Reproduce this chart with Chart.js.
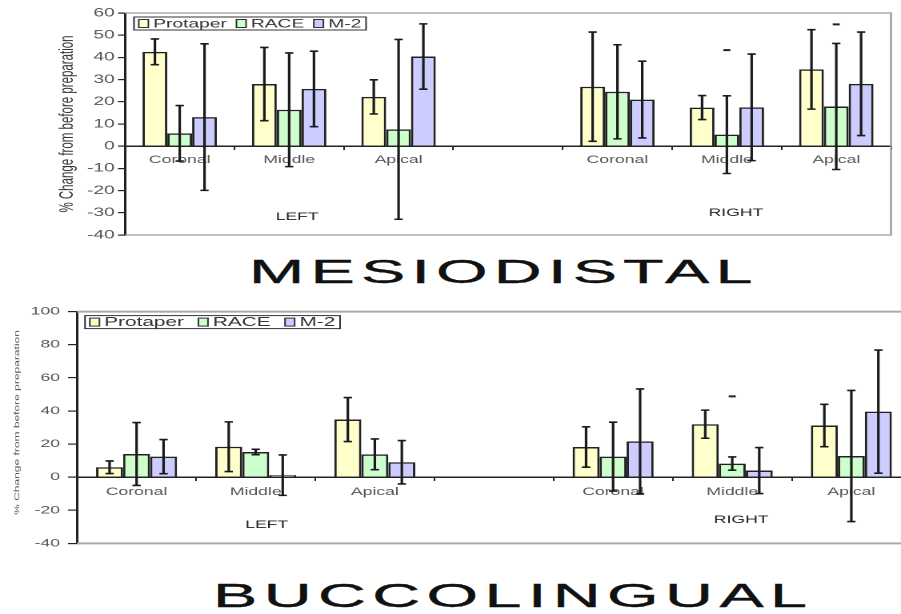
<!DOCTYPE html>
<html>
<head>
<meta charset="utf-8">
<script src="https://cdn.jsdelivr.net/npm/chart.js@4/dist/chart.umd.min.js"></script>
<style>
  html, body { margin: 0; padding: 0; background: #fff; width: 901px; height: 614px; overflow: hidden; position: relative; }
  .wrap { position: absolute; left: 0; transform-origin: 0 0; }
  .heading {
    position: absolute; white-space: nowrap; color: #111;
    font-family: 'Liberation Sans', Arial, sans-serif; font-size: 34px; line-height: 34px;
    -webkit-text-stroke: 0.4px #111;
    transform: scaleX(1.95); transform-origin: 0 0;
  }
</style>
</head>
<body>
<div class="wrap" id="wrapMD" style="top:0px"><canvas id="chartMD" width="563" height="245"></canvas></div>
<div class="heading" style="left:249px; top:253.6px; letter-spacing:3.2px">MESIODISTAL</div>
<div class="wrap" id="wrapBL" style="top:300px"><canvas id="chartBL" width="575" height="255"></canvas></div>
<div class="heading" style="left:213px; top:577.6px; letter-spacing:3.3px">BUCCOLINGUAL</div>

<script>
// ---- data ----
const categories   = ['Coronal', 'Middle', 'Apical', '', 'Coronal', 'Middle', 'Apical'];
const seriesNames  = ['Protaper', 'RACE', 'M-2'];
const seriesColors = ['#FFFFCC', '#CCFFCC', '#CCCCFF'];
const sideNames    = ['LEFT', 'RIGHT'];
const yTitle       = '% Change from before preparation';

// Mesiodistal: mean % change and error (±)
const mdProtaper    = [42.5, 28.0, 22.2, null, 26.8, 17.4, 34.6];
const mdRace        = [5.8, 16.4, 7.6, null, 24.5, 5.2, 17.9];
const mdM2          = [13.1, 25.8, 40.4, null, 21.0, 17.5, 28.1];
const mdProtaperErr = [5.8, 16.5, 7.7, null, 24.6, 5.4, 17.9];
const mdRaceErr     = [12.5, 25.6, 40.5, null, 21.2, 17.5, 28.4];
const mdM2Err       = [33.0, 17.0, 14.7, null, 17.3, 24.0, 23.3];
const mdMarks       = [null, null, null, null, null, 43.3, 54.9];
const mdYTicks      = [-40, -30, -20, -10, 0, 10, 20, 30, 40, 50, 60];

// Buccolingual: mean % change and error (±)
const blProtaper    = [6.0, 18.4, 34.8, null, 18.2, 32.0, 31.2];
const blRace        = [14.0, 15.2, 13.8, null, 12.4, 8.2, 12.8];
const blM2          = [12.4, 1.2, 9.0, null, 21.6, 4.0, 39.6];
const blProtaperErr = [3.8, 15.0, 13.3, null, 12.2, 8.5, 12.8];
const blRaceErr     = [19.0, 1.6, 9.3, null, 20.8, 4.0, 39.6];
const blM2Err       = [10.3, 12.2, 13.1, null, 31.7, 13.9, 37.2];
const blMarks       = [null, null, null, null, null, 48.8, null];
const blYTicks      = [-40, -20, 0, 20, 40, 60, 80, 100];

// ---- drawing ----
const FONT = "'Liberation Sans', Arial, sans-serif";
const STRETCH = 901 / 563;   // canvases are drawn narrow and widened horizontally
document.getElementById('wrapMD').style.transform = `scaleX(${STRETCH})`;
document.getElementById('wrapBL').style.transform = `scaleX(${STRETCH})`;

// grey frame around the plot (left side is the value axis)
const framePlugin = (color, width) => ({
  id: 'plotFrame',
  beforeDatasetsDraw(chart) {
    const { ctx, chartArea: a } = chart;
    ctx.save();
    ctx.strokeStyle = color; ctx.lineWidth = width;
    ctx.beginPath();
    ctx.moveTo(a.left, a.top); ctx.lineTo(a.right, a.top);
    ctx.lineTo(a.right, a.bottom); ctx.lineTo(a.left, a.bottom);
    ctx.stroke();
    ctx.restore();
  }
});

// whiskers from each bar's own value and its ± error
const errorBarPlugin = {
  id: 'errorBars',
  afterDatasetsDraw(chart) {
    const { ctx } = chart;
    const y = chart.scales.y;
    ctx.save();
    ctx.strokeStyle = '#1a1a1a';
    ctx.lineWidth = 1.6;
    chart.data.datasets.forEach((ds, i) => {
      if (!ds.errors) return;
      const meta = chart.getDatasetMeta(i);
      meta.data.forEach((bar, j) => {
        const v = ds.data[j], e = ds.errors[j];
        if (v == null || e == null) return;
        const yt = y.getPixelForValue(v + e);
        const yb = y.getPixelForValue(v - e);
        const cap = 2.6;
        ctx.beginPath();
        ctx.moveTo(bar.x, yt); ctx.lineTo(bar.x, yb);
        ctx.moveTo(bar.x - cap, yt); ctx.lineTo(bar.x + cap, yt);
        ctx.moveTo(bar.x - cap, yb); ctx.lineTo(bar.x + cap, yb);
        ctx.stroke();
      });
    });
    ctx.restore();
  }
};

// LEFT / RIGHT group captions under the middle categories
const sidePlugin = (spots) => ({
  id: 'sideCaptions',
  afterDraw(chart) {
    const { ctx } = chart;
    const x = chart.scales.x;
    ctx.save();
    ctx.font = `11px ${FONT}`;
    ctx.fillStyle = '#222';
    ctx.textAlign = 'center';
    ctx.textBaseline = 'middle';
    spots.forEach(s => ctx.fillText(s.text, x.getPixelForValue(s.index) + s.dx, s.y));
    ctx.restore();
  }
});

// boxed series key in the upper-left corner of the plot
const keyPlugin = (o) => ({
  id: 'seriesKey',
  afterDraw(chart) {
    const { ctx, chartArea } = chart;
    const bars = chart.data.datasets.filter(d => d.type !== 'line');
    ctx.save();
    ctx.font = `${o.size}px ${FONT}`;
    const pad = 3, sq = 6, sqGap = 3, h = 13;
    let w = pad * 2;
    bars.forEach((d, i) => {
      w += sq + sqGap + ctx.measureText(d.label).width + (i < bars.length - 1 ? o.gap : 0);
    });
    const x0 = chartArea.left + o.dx, y0 = chartArea.top + o.dy;
    ctx.fillStyle = '#fff'; ctx.fillRect(x0, y0, w, h);
    ctx.strokeStyle = '#333'; ctx.lineWidth = 1; ctx.strokeRect(x0, y0, w, h);
    let x = x0 + pad;
    ctx.textAlign = 'left'; ctx.textBaseline = 'middle';
    bars.forEach(d => {
      ctx.fillStyle = d.backgroundColor;
      ctx.fillRect(x, y0 + 2.5, sq, 8);
      ctx.strokeStyle = '#333'; ctx.strokeRect(x, y0 + 2.5, sq, 8);
      x += sq + sqGap;
      ctx.fillStyle = '#333';
      ctx.fillText(d.label, x, y0 + h / 2 + 0.5);
      x += ctx.measureText(d.label).width + o.gap;
    });
    ctx.restore();
  }
});

// thin, compressed vertical axis caption
const thinTitlePlugin = (text, cx, cy, size, squash) => ({
  id: 'thinTitle',
  afterDraw(chart) {
    const { ctx } = chart;
    ctx.save();
    ctx.translate(cx, cy);
    ctx.rotate(-Math.PI / 2);
    ctx.scale(1, squash);
    ctx.font = `${size}px ${FONT}`;
    ctx.fillStyle = '#555';
    ctx.textAlign = 'center';
    ctx.textBaseline = 'middle';
    ctx.fillText(text, 0, 0);
    ctx.restore();
  }
});

function makeChart(id, c) {
  const series = [c.protaper, c.race, c.m2];
  const errs = [c.protaperErr, c.raceErr, c.m2Err];
  const datasets = series.map((vals, i) => ({
    type: 'bar',
    label: seriesNames[i],
    data: vals,
    errors: errs[i],
    backgroundColor: seriesColors[i],
    borderColor: '#222',
    borderWidth: 1.5,
    barPercentage: 1.0,
    categoryPercentage: 0.68
  }));
  datasets.push({
    type: 'line',
    label: 'sig',
    data: c.marks,
    showLine: false,
    pointStyle: 'line',
    pointRadius: 2.2,
    pointHoverRadius: 2.2,
    pointBorderWidth: 2,
    borderColor: '#222',
    backgroundColor: '#222'
  });

  const yTicks = c.yTicks;
  return new Chart(document.getElementById(id), {
    data: { labels: categories, datasets },
    options: {
      responsive: false,
      devicePixelRatio: 2,
      animation: false,
      events: [],
      layout: { padding: c.padding },
      plugins: { legend: { display: false }, tooltip: { enabled: false } },
      scales: {
        x: {
          type: 'category',
          position: { y: 0 },
          offset: true,
          grid: { display: true, offset: true, drawOnChartArea: false, drawTicks: true, tickLength: 3, color: '#222', lineWidth: 1 },
          border: { display: true, color: '#222', width: 1.5 },
          ticks: { font: { size: 11, family: FONT }, color: '#555', padding: c.xPad, maxRotation: 0, autoSkip: false },
          afterFit(s) { s.height = 0; }
        },
        y: {
          type: 'linear',
          min: yTicks[0],
          max: yTicks[yTicks.length - 1],
          afterBuildTicks(s) { s.ticks = yTicks.map(v => ({ value: v })); },
          ticks: { font: { size: c.yFont, family: FONT }, color: '#555', padding: c.yPad },
          grid: { display: true, drawOnChartArea: false, drawTicks: true, tickLength: c.tickLen, color: '#222', lineWidth: 1.2 },
          border: { display: true, color: '#222', width: 1.5 },
          title: c.title,
          afterFit(s) { s.width = c.axisWidth; }
        }
      }
    },
    plugins: [framePlugin(c.frameColor, c.frameWidth), errorBarPlugin, sidePlugin(c.sides), keyPlugin(c.key)].concat(c.extra || [])
  });
}

makeChart('chartMD', {
  protaper: mdProtaper, race: mdRace, m2: mdM2,
  protaperErr: mdProtaperErr, raceErr: mdRaceErr, m2Err: mdM2Err,
  marks: mdMarks, yTicks: mdYTicks,
  padding: { left: 0, right: 6.25, top: 13, bottom: 10 },
  axisWidth: 125 / STRETCH,
  yFont: 12, yPad: 2, tickLen: 4.4, xPad: 4,
  frameColor: '#999', frameWidth: 1.2,
  title: { display: true, text: yTitle, color: '#333', font: { size: 11.5, family: FONT }, padding: { top: 35.6, bottom: 0 } },
  sides: [
    { text: sideNames[0], index: 1, dx: 8 / STRETCH, y: 217 },
    { text: sideNames[1], index: 5, dx: 9 / STRETCH, y: 213 }
  ],
  key: { size: 12, gap: 6, dx: 5.6, dy: 4 }
});

makeChart('chartBL', {
  protaper: blProtaper, race: blRace, m2: blM2,
  protaperErr: blProtaperErr, raceErr: blRaceErr, m2Err: blM2Err,
  marks: blMarks, yTicks: blYTicks,
  padding: { left: 0, right: 5.8, top: 11, bottom: 9.3 },
  axisWidth: 77 / STRETCH,
  yFont: 11, yPad: 5, tickLen: 5.6, xPad: 5,
  frameColor: '#aaa', frameWidth: 2,
  title: { display: false },
  sides: [
    { text: sideNames[0], index: 1, dx: 11 / STRETCH, y: 225 },
    { text: sideNames[1], index: 5, dx: 9 / STRETCH, y: 220 }
  ],
  key: { size: 13, gap: 9, dx: 5, dy: 4 },
  extra: [thinTitlePlugin(yTitle, 17 / STRETCH, 122.5, 12, 0.35)]
});
</script>
</body>
</html>
